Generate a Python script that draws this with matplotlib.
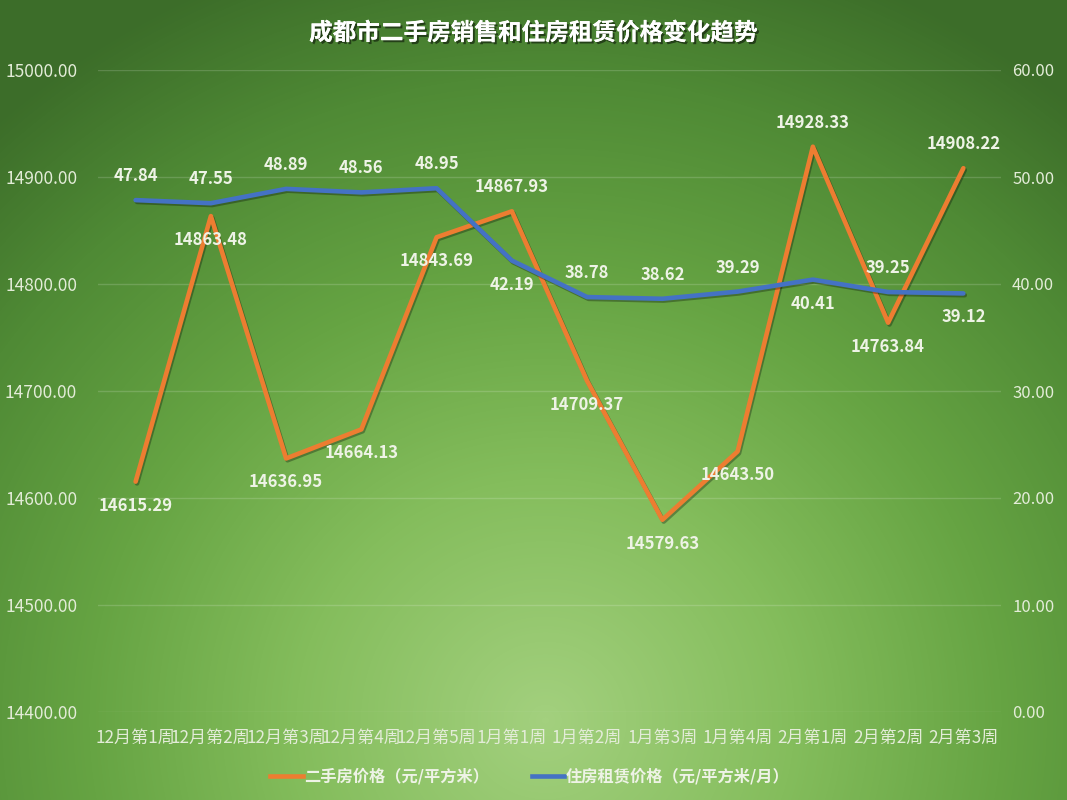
import numpy as np
import matplotlib
matplotlib.use("Agg")
import matplotlib.pyplot as plt
import matplotlib.patheffects as pe
from matplotlib.colors import LinearSegmentedColormap
from matplotlib.lines import Line2D

plt.rcParams['font.family'] = ['Noto Sans CJK SC', 'DejaVu Sans']

# ---------------- data ----------------
categories = ["12月第1周", "12月第2周", "12月第3周", "12月第4周", "12月第5周",
              "1月第1周", "1月第2周", "1月第3周", "1月第4周",
              "2月第1周", "2月第2周", "2月第3周"]
sale_price = [14615.29, 14863.48, 14636.95, 14664.13, 14843.69, 14867.93,
              14709.37, 14579.63, 14643.50, 14928.33, 14763.84, 14908.22]
rent_price = [47.84, 47.55, 48.89, 48.56, 48.95, 42.19,
              38.78, 38.62, 39.29, 40.41, 39.25, 39.12]
left_ticks = [14400, 14500, 14600, 14700, 14800, 14900, 15000]
right_ticks = [0, 10, 20, 30, 40, 50, 60]
series_names = ["二手房价格（元/平方米）", "住房租赁价格（元/平方米/月）"]
title = "成都市二手房销售和住房租赁价格变化趋势"

# label placement: +1 above, -1 below
sale_label_side = [-1, -1, -1, -1, -1, 1, -1, -1, -1, 1, -1, 1]
rent_label_side = [1, 1, 1, 1, 1, -1, 1, 1, 1, -1, 1, -1]

ORANGE = "#ED7D31"
BLUE = "#4472C4"
TXT = "#eef3e6"
TICK = "#e3ecd8"

W, H = 1067, 800
fig = plt.figure(figsize=(W / 100, H / 100), dpi=100)

# ---------------- background gradient ----------------
bg = fig.add_axes([0, 0, 1, 1], zorder=-10)
yy, xx = np.mgrid[0:H, 0:W]
d = np.sqrt(((xx - 545) / 720.0) ** 2 + ((yy - 720) / 700.0) ** 2)
d = np.clip(d / 1.15, 0, 1)
cmap = LinearSegmentedColormap.from_list(
    "g", [(0.0, "#a3d07e"), (0.3, "#84bd5c"), (0.55, "#66a443"),
          (0.8, "#4f8a35"), (1.0, "#3c6d29")])
bg.imshow(d, cmap=cmap, vmin=0, vmax=1, aspect="auto", interpolation="bilinear")
bg.set_axis_off()

# ---------------- main axes ----------------
left, right = 98 / W, 1001 / W
bottom, top = 1 - 712 / H, 1 - 70 / H
ax = fig.add_axes([left, bottom, right - left, top - bottom])
ax.patch.set_alpha(0)
ax2 = ax.twinx()
ax2.patch.set_alpha(0)

x = np.arange(len(categories))
shadow = [pe.SimpleLineShadow(offset=(1.0, -1.3), shadow_color="black", alpha=0.3), pe.Normal()]

ax.plot(x, sale_price, color=ORANGE, lw=3.3, solid_joinstyle="round",
        solid_capstyle="round", path_effects=shadow, zorder=3)
ax2.plot(x, rent_price, color=BLUE, lw=3.3, solid_joinstyle="round",
         solid_capstyle="round", path_effects=shadow, zorder=3)

ax.set_xlim(-0.5, len(categories) - 0.5)
ax.set_ylim(left_ticks[0], left_ticks[-1])
ax2.set_ylim(right_ticks[0], right_ticks[-1])
ax.set_yticks(left_ticks)
ax.set_yticklabels([f"{v:.2f}" for v in left_ticks])
ax2.set_yticks(right_ticks)
ax2.set_yticklabels([f"{v:.2f}" for v in right_ticks])
ax.set_xticks(x)
ax.set_xticklabels(categories)

ax.grid(axis="y", color="white", alpha=0.16, lw=1)
ax.set_axisbelow(True)
for a in (ax, ax2):
    for s in a.spines.values():
        s.set_visible(False)
ax.tick_params(axis="y", length=0, pad=15, labelsize=12.5, labelcolor=TICK)
ax2.tick_params(axis="y", length=0, pad=8, labelsize=12, labelcolor=TICK)
ax.tick_params(axis="x", length=0, pad=12, labelsize=12.3, labelcolor=TICK)

# ---------------- data labels ----------------
for xi, v, s in zip(x, sale_price, sale_label_side):
    ax2.annotate(f"{v:.2f}", xy=(xi, v), xycoords=ax.transData,
                 xytext=(0, 24 * s), textcoords="offset pixels",
                 ha="center", va="center", fontsize=12, fontweight="bold",
                 color=TXT, zorder=5)
for xi, v, s in zip(x, rent_price, rent_label_side):
    ax2.annotate(f"{v:.2f}", xy=(xi, v), xycoords=ax2.transData,
                 xytext=(0, 24 * s), textcoords="offset pixels",
                 ha="center", va="center", fontsize=12, fontweight="bold",
                 color=TXT, zorder=5)

# ---------------- title ----------------
fig.text(0.5, 1 - 33 / H, title, ha="center", va="center", fontsize=17,
         fontweight="bold", color="white",
         path_effects=[pe.withSimplePatchShadow(offset=(1.5, -1.5), shadow_rgbFace="black", alpha=0.5),
                       pe.Normal()])

# ---------------- legend ----------------
handles = [Line2D([0], [0], color=ORANGE, lw=3.3),
           Line2D([0], [0], color=BLUE, lw=3.3)]
leg = fig.legend(handles, series_names, loc="center",
                 bbox_to_anchor=(530 / W, 1 - 776 / H), ncol=2, frameon=False,
                 handlelength=2.0, handletextpad=0.1, columnspacing=2.6,
                 prop={"size": 11.7, "weight": "bold"})
for t in leg.get_texts():
    t.set_color(TXT)

fig.savefig("out.png", dpi=100)
